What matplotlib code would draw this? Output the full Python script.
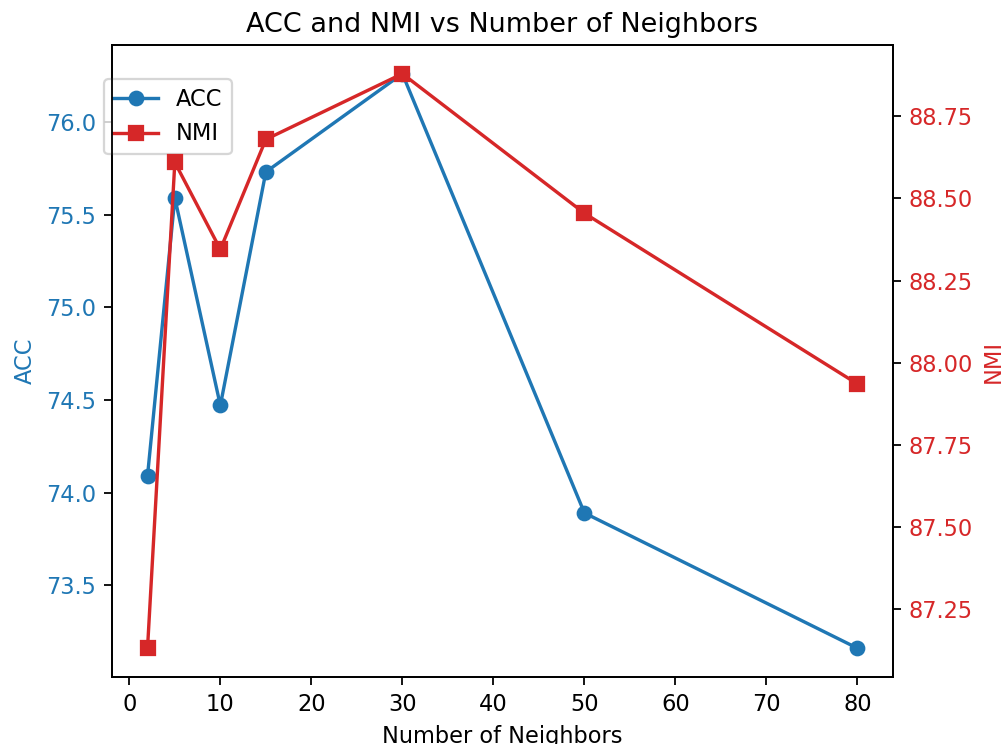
import matplotlib
matplotlib.use("Agg")
import matplotlib.pyplot as plt

neighbors = [2, 5, 10, 15, 30, 50, 80]
acc = [74.09, 75.59, 74.47, 75.73, 76.26, 73.89, 73.16]
nmi = [87.13, 88.61, 88.345, 88.68, 88.88, 88.455, 87.935]

DPI = 162
fig = plt.figure(figsize=(1002 / DPI, 744 / DPI), dpi=DPI)
ax1 = fig.add_axes([0.1118, 0.0901, 0.7794, 0.8494])

c_acc = "tab:blue"
c_nmi = "tab:red"

l1, = ax1.plot(neighbors, acc, marker="o", color=c_acc, label="ACC")
ax1.set_xlabel("Number of Neighbors")
ax1.set_ylabel("ACC", color=c_acc)
ax1.tick_params(axis="y", labelcolor=c_acc)

ax2 = ax1.twinx()
l2, = ax2.plot(neighbors, nmi, marker="s", color=c_nmi, label="NMI")
ax2.set_ylabel("NMI", color=c_nmi)
ax2.tick_params(axis="y", labelcolor=c_nmi)

ax1.set_title("ACC and NMI vs Number of Neighbors")
ax1.legend([l1, l2], ["ACC", "NMI"], loc="upper left",
           bbox_to_anchor=(-0.01, 0.946), borderaxespad=0)

fig.savefig("out.png", dpi=DPI)
